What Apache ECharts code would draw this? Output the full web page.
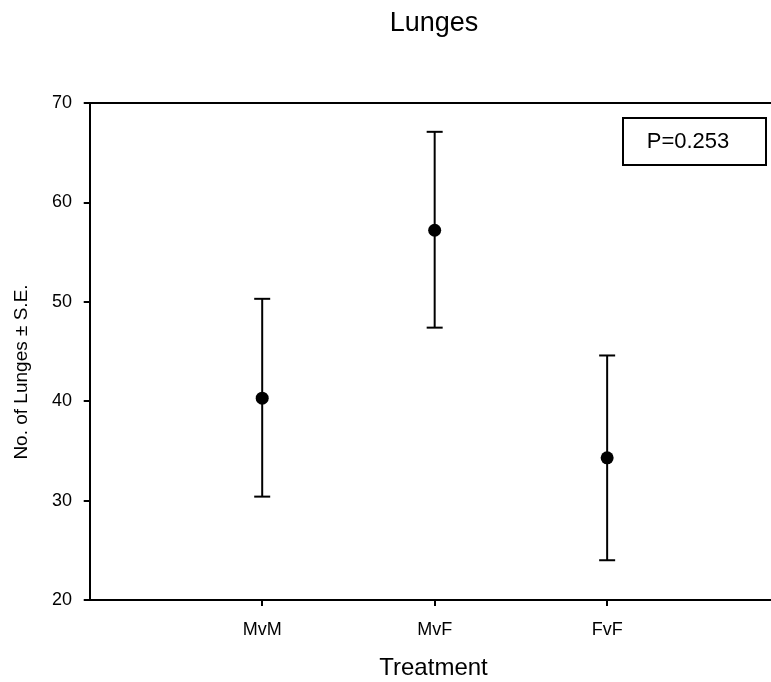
<!DOCTYPE html>
<html>
<head>
<meta charset="utf-8">
<script src="https://cdn.jsdelivr.net/npm/echarts@6/dist/echarts.min.js"></script>
<style>
html,body{margin:0;padding:0;background:#fff;}
#chart{width:771px;height:682px;}
</style>
</head>
<body>
<div id="chart"></div>
<script>
var categories = ['MvM', 'MvF', 'FvF'];
var positions = [1, 2, 3];
var means = [40.3, 57.2, 34.3];
var upper = [50.3, 67.1, 44.6];
var lower = [30.4, 47.4, 24.0];
var yTicks = [20, 30, 40, 50, 60, 70];
var pText = 'P=0.253';
var yName = 'No. of Lunges \u00b1 S.E.';

var meanData = positions.map(function (p, i) { return [p, means[i]]; });
var errData = positions.map(function (p, i) { return [p, lower[i], upper[i]]; });

var chart = echarts.init(document.getElementById('chart'));
var font = 'Liberation Sans, Arial, sans-serif';
chart.setOption({
  animation: false,
  backgroundColor: '#fff',
  title: {
    text: 'Lunges',
    left: 429, top: 5, textAlign: 'center',
    textStyle: { fontFamily: font, fontWeight: 'normal', fontSize: 27, color: '#000' }
  },
  grid: { left: 88, top: 103, bottom: 82, right: 0, show: false, containLabel: false, outerBoundsMode: 'none' },
  xAxis: [{
    type: 'value', min: -0.01, max: 3.95,
    name: 'Treatment', nameLocation: 'middle', nameGap: 56,
    nameTextStyle: { fontFamily: font, fontSize: 24, color: '#000', padding: [0, 0, 0, 8] },
    axisLine: { show: true, onZero: false, lineStyle: { color: '#000', width: 2 } },
    axisTick: { show: true, customValues: positions, length: 6, lineStyle: { color: '#000', width: 2 } },
    axisLabel: {
      customValues: positions, margin: 21,
      fontFamily: font, fontSize: 18, color: '#000',
      formatter: function (v) { var i = positions.indexOf(Math.round(v)); return i >= 0 ? categories[i] : ''; }
    },
    splitLine: { show: false }
  }, {
    type: 'value', min: -0.01, max: 3.95, position: 'top',
    axisLine: { show: true, onZero: false, lineStyle: { color: '#000', width: 2 } },
    axisTick: { show: false }, axisLabel: { show: false }, splitLine: { show: false }
  }],
  yAxis: {
    type: 'value', min: yTicks[0], max: yTicks[yTicks.length - 1], interval: 10,
    axisLine: { show: true, lineStyle: { color: '#000', width: 2 } },
    axisTick: { show: true, length: 6, lineStyle: { color: '#000', width: 2 } },
    axisLabel: { margin: 16, fontFamily: font, fontSize: 18, color: '#000' },
    splitLine: { show: false }
  },
  series: [
    {
      type: 'custom',
      data: errData,
      encode: { x: 0, y: [1, 2] },
      z: 2,
      renderItem: function (params, api) {
        var x = api.value(0);
        var lo = api.coord([x, api.value(1)]);
        var hi = api.coord([x, api.value(2)]);
        var hw = 8;
        var st = { stroke: '#000', lineWidth: 2, fill: null };
        return {
          type: 'group',
          children: [
            { type: 'line', shape: { x1: lo[0], y1: lo[1], x2: hi[0], y2: hi[1] }, style: st },
            { type: 'line', shape: { x1: hi[0] - hw, y1: hi[1], x2: hi[0] + hw, y2: hi[1] }, style: st },
            { type: 'line', shape: { x1: lo[0] - hw, y1: lo[1], x2: lo[0] + hw, y2: lo[1] }, style: st }
          ]
        };
      }
    },
    {
      type: 'scatter',
      data: meanData,
      symbol: 'circle',
      symbolSize: 13,
      z: 3,
      itemStyle: { color: '#000', opacity: 1 }
    }
  ],
  graphic: [
    {
      type: 'text',
      x: 22, y: 372, rotation: Math.PI / 2,
      style: { text: yName, fontFamily: font, fontSize: 19, fill: '#000', align: 'center', verticalAlign: 'middle' }
    },
    {
      type: 'rect',
      shape: { x: 623, y: 118, width: 143, height: 47 },
      style: { fill: '#fff', stroke: '#000', lineWidth: 2 },
      z: 10
    },
    {
      type: 'text',
      x: 688, y: 142,
      style: { text: pText, fontFamily: font, fontSize: 22, fill: '#000', align: 'center', verticalAlign: 'middle' },
      z: 11
    }
  ]
});
</script>
</body>
</html>
